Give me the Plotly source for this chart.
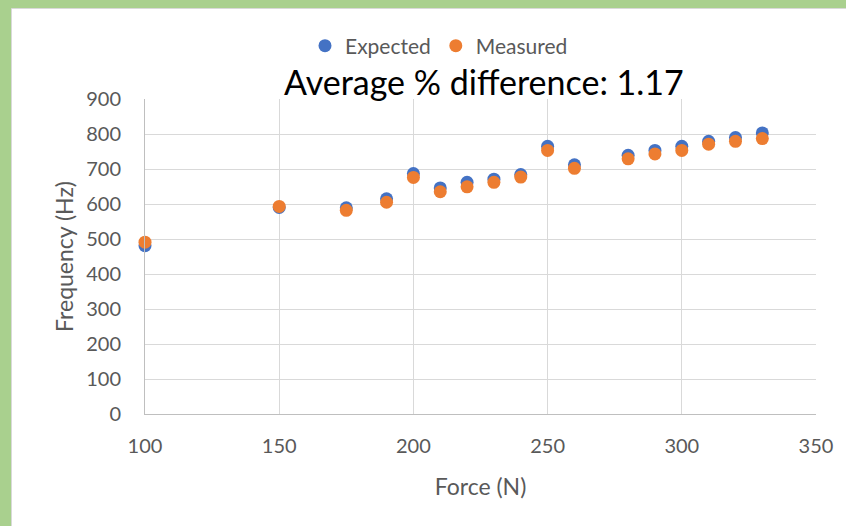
import plotly.graph_objects as go

force = [100, 150, 175, 190, 200, 210, 220, 230, 240, 250, 260, 280, 290, 300, 310, 320, 330]
expected = [481, 590, 589, 615, 687, 646, 662, 671, 684, 765, 712, 739, 753, 765, 779, 790, 803]
measured = [491, 593, 582, 605, 676, 635, 649, 662, 677, 753, 702, 729, 743, 753, 771, 779, 787]
title_text = "Average % difference: 1.17"

W, H = 846, 526
L, R, T, B = 145, 30, 99, 112
pw, ph = W - L - R, H - T - B


def px(x):
    return (x - L) / pw


def py(y):
    return (H - B - y) / ph


FONT = "Lato"
GRAY = "#595959"

fig = go.Figure()
fig.add_trace(go.Scatter(x=force, y=expected, mode="markers", name="Expected", cliponaxis=False,
                         marker=dict(color="#4472C4", size=13)))
fig.add_trace(go.Scatter(x=force, y=measured, mode="markers", name="Measured", cliponaxis=False,
                         marker=dict(color="#ED7D31", size=13)))

fig.update_layout(
    width=W, height=H,
    margin=dict(l=L, r=R, t=T, b=B, autoexpand=False),
    paper_bgcolor="#A9D08E",
    plot_bgcolor="white",
    font=dict(family=FONT, color=GRAY, size=20),
    showlegend=True,
    legend=dict(orientation="h", x=px(439), y=py(46), xanchor="center", yanchor="middle",
                font=dict(size=21, color=GRAY), itemwidth=30, tracegroupgap=0,
                bgcolor="rgba(0,0,0,0)"),
    shapes=[dict(type="rect", xref="paper", yref="paper", layer="below",
                 x0=px(11.5), x1=px(W + 5), y0=py(H + 5), y1=py(8.5),
                 fillcolor="white", line=dict(color="#d9d9d9", width=1))],
    annotations=[dict(text=title_text, xref="paper", yref="paper", x=px(484), y=py(82),
                      xanchor="center", yanchor="middle", showarrow=False,
                      font=dict(size=34, color="black", family=FONT))],
)

fig.update_xaxes(range=[100, 350], dtick=50, tick0=100, showgrid=True, gridcolor="#d9d9d9",
                 gridwidth=1, showline=True, linecolor="#bfbfbf", linewidth=1, zeroline=False,
                 ticks="", ticklabelstandoff=14, tickfont=dict(size=20, color=GRAY),
                 title=dict(text="Force (N)", font=dict(size=23, color=GRAY), standoff=22),
                 automargin=False)
fig.update_yaxes(range=[0, 900], dtick=100, tick0=0, showgrid=True, gridcolor="#d9d9d9",
                 gridwidth=1, showline=True, linecolor="#bfbfbf", linewidth=1, zeroline=False,
                 ticks="", ticklabelstandoff=19, tickfont=dict(size=20, color=GRAY),
                 title=dict(text="Frequency (Hz)", font=dict(size=23, color=GRAY), standoff=6),
                 automargin=False)

fig.write_html("out.html",
               config={"displayModeBar": False},
               post_script="document.body.style.margin='0';document.body.style.padding='0';")
